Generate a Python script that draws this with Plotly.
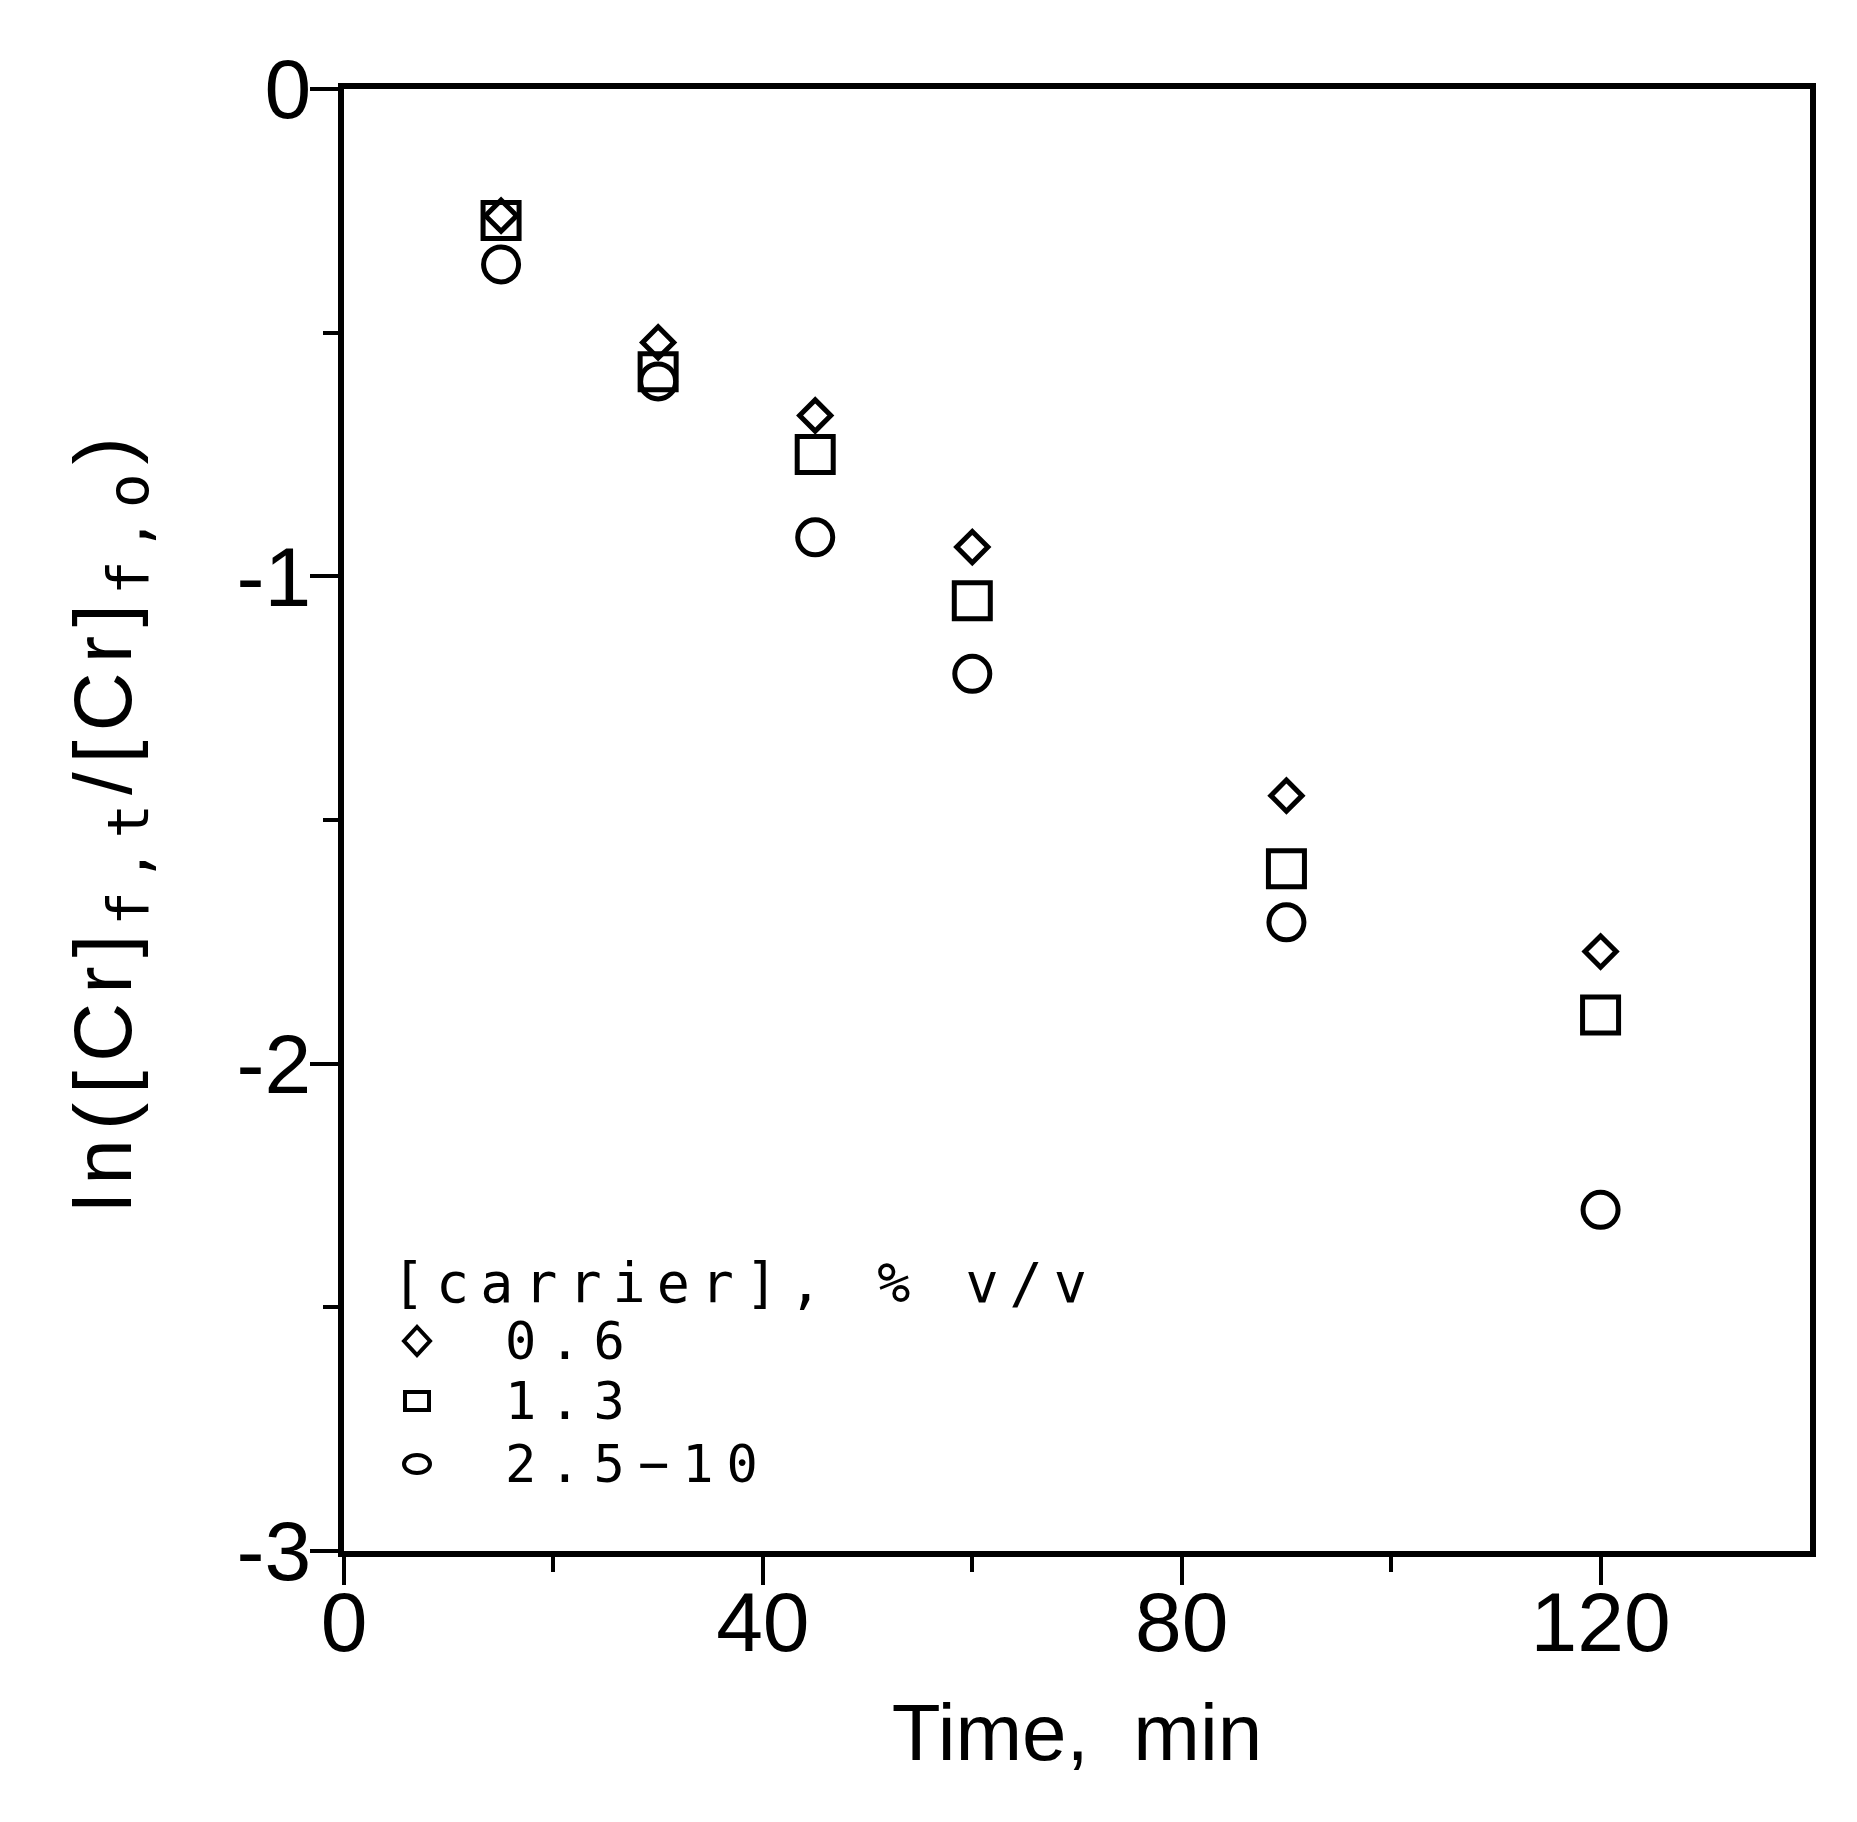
import plotly.graph_objects as go

# ---- data ----
time_min = [15, 30, 45, 60, 90, 120]
ln_ratio_06 = [-0.26, -0.52, -0.67, -0.94, -1.45, -1.77]
ln_ratio_13 = [-0.27, -0.58, -0.75, -1.05, -1.60, -1.90]
ln_ratio_25_10 = [-0.36, -0.60, -0.92, -1.20, -1.71, -2.30]
series_labels = ["0.6", "1.3", "2.5\u221210"]
x_ticks = [0, 40, 80, 120]
y_ticks = [0, -1, -2, -3]
y_tick_text = ["0", "-1", "-2", "-3"]
legend_title = "[carrier],\u00a0%\u00a0v/v"
x_title = "Time,\u00a0\u00a0min"
MONO = "DejaVu Sans Mono"
SPACED = "letter-spacing:9px"
y_title = ("<span style='%s'>ln([Cr]<sub><span style='font-family:%s'>f,t</span></sub>/[Cr]"
           "<sub><span style='font-family:%s'>f,o</span></sub>)</span>" % (SPACED, MONO, MONO))

# page offset from default body margin
OFF = 8
W, H = 1849, 1814
LW = 6
# axis line centres in page pixels
LL, LR, LT, LB = 341, 1813, 86, 1554
PL, PR, PT, PB = LL + LW / 2, LR - LW / 2, LT + LW / 2, LB - LW / 2
ML, MT = PL - OFF, PT - OFF
MR = W + OFF - PR
MB = H + OFF - PB

fig = go.Figure()
specs = [
    (ln_ratio_06, "diamond-open", 24),
    (ln_ratio_13, "square-open", 36),
    (ln_ratio_25_10, "circle-open", 35),
]
for (vals, sym, sz), name in zip(specs, series_labels):
    fig.add_trace(go.Scatter(
        x=time_min, y=vals, mode="markers", name=name, showlegend=False,
        marker=dict(symbol=sym, size=sz, color="black", line=dict(width=5, color="black")),
        cliponaxis=False,
    ))

axis_common = dict(
    showline=True, linewidth=LW, linecolor="black", mirror=True,
    ticks="outside", ticklen=28, tickwidth=4, tickcolor="black",
    showgrid=False, zeroline=False,
    tickfont=dict(family="Liberation Sans, Arial", size=84, color="black"),
)
fig.update_xaxes(
    range=[0, 140], tickmode="array", tickvals=x_ticks,
    minor=dict(tickvals=[20, 60, 100], ticklen=15, tickwidth=4, ticks="outside", tickcolor="black"),
    ticklabelstandoff=-35,
    title=dict(text=x_title, font=dict(family="Liberation Sans, Arial", size=80, color="black"), standoff=38),
    **axis_common,
)
fig.update_yaxes(
    range=[-3, 0], tickmode="array", tickvals=y_ticks, ticktext=y_tick_text,
    minor=dict(tickvals=[-0.5, -1.5, -2.5], ticklen=15, tickwidth=4, ticks="outside", tickcolor="black"),
    ticklabelstandoff=-18,
    title=dict(text=y_title, font=dict(family="Liberation Sans, Arial", size=82, color="black"), standoff=80),
    **axis_common,
)

# legend built from annotations + keys
def px2x(p):
    return (p - PL) / (PR - PL)
def py2y(p):
    return (PB - p) / (PB - PT)

annotations = [dict(text="<span style='letter-spacing:11px'>%s</span>" % legend_title,
                    xref="paper", yref="paper", x=px2x(390), y=py2y(1283),
                    xanchor="left", yanchor="middle", showarrow=False,
                    font=dict(family=MONO, size=55, color="black"))]
row_y = [1341, 1401, 1464]
for lab, ry in zip(series_labels, row_y):
    annotations.append(dict(text="<span style='letter-spacing:13px'>%s</span>" % lab,
                            xref="paper", yref="paper", x=px2x(503), y=py2y(ry),
                            xanchor="left", yanchor="middle", showarrow=False,
                            font=dict(family=MONO, size=52, color="black")))
fig.update_layout(annotations=annotations)

kx = px2x(417)
shapes = [
    dict(type="path", xref="paper", yref="paper", xsizemode="pixel", ysizemode="pixel",
         xanchor=kx, yanchor=py2y(row_y[0]), path="M -13 0 L 0 14 L 13 0 L 0 -14 Z",
         line=dict(color="black", width=4)),
    dict(type="rect", xref="paper", yref="paper", xsizemode="pixel", ysizemode="pixel",
         xanchor=kx, yanchor=py2y(row_y[1]), x0=-12, x1=12, y0=-9, y1=9,
         line=dict(color="black", width=4)),
    dict(type="circle", xref="paper", yref="paper", xsizemode="pixel", ysizemode="pixel",
         xanchor=kx, yanchor=py2y(row_y[2]), x0=-13, x1=13, y0=-9, y1=9,
         line=dict(color="black", width=4)),
]
fig.update_layout(shapes=shapes)

fig.update_layout(
    width=W, height=H,
    margin=dict(l=ML, r=MR, t=MT, b=MB),
    paper_bgcolor="white", plot_bgcolor="white",
    showlegend=False,
)
fig.write_html("out.html")
